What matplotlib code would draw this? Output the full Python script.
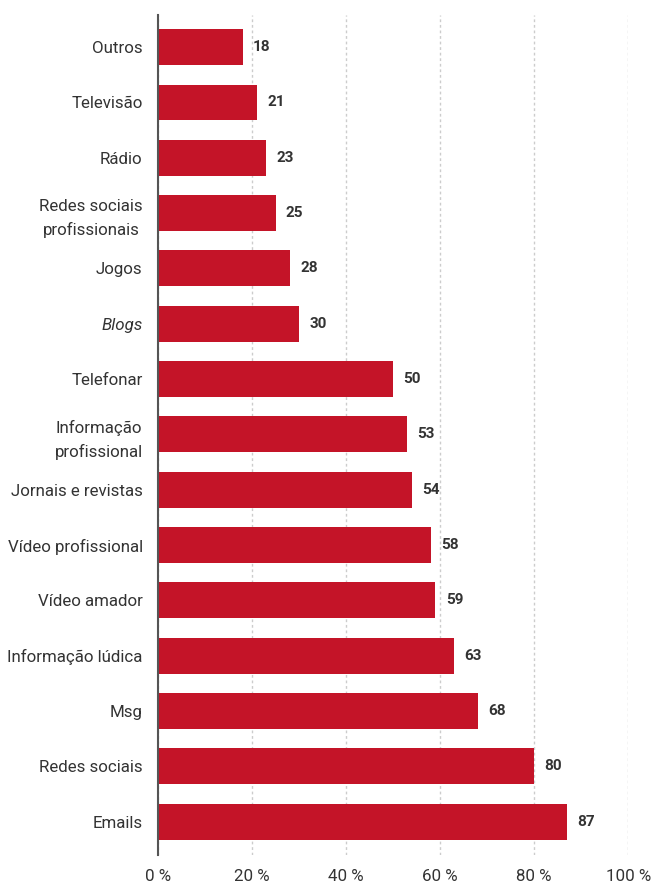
import matplotlib.pyplot as plt

categories = ["Outros", "Televisão", "Rádio", "Redes sociais\nprofissionais", "Jogos",
              "Blogs", "Telefonar", "Informação\nprofissional", "Jornais e revistas",
              "Vídeo profissional", "Vídeo amador", "Informação lúdica", "Msg",
              "Redes sociais", "Emails"]
values = [18, 21, 23, 25, 28, 30, 50, 53, 54, 58, 59, 63, 68, 80, 87]
xticks = [0, 20, 40, 60, 80, 100]
xtick_labels = ["0 %", "20 %", "40 %", "60 %", "80 %", "100 %"]

plt.rcParams['font.family'] = ['Roboto', 'DejaVu Sans']
text_color = "#333333"

fig = plt.figure(figsize=(6.53, 8.86), dpi=100)
ax = fig.add_axes([0.242, 0.035, 0.720, 0.948])

y = list(range(len(categories)))
ax.barh(y, values, height=0.65, color="#C41428", zorder=3)
for yi, v in zip(y, values):
    ax.text(v + 2.2, yi, str(v), va="center", ha="left", fontsize=11,
            fontweight="bold", color=text_color)

ax.set_xlim(0, 100)
ax.set_ylim(14.6, -0.58)
ax.set_yticks(y)
ax.set_yticklabels(categories, fontsize=12.2, color=text_color, linespacing=1.6)
for lbl in ax.get_yticklabels():
    lbl.set_multialignment("center")
    if lbl.get_text() == "Blogs":
        lbl.set_style("italic")
ax.set_xticks(xticks)
ax.set_xticklabels(xtick_labels, fontsize=12.2, color=text_color)
ax.tick_params(axis="both", length=0)
ax.tick_params(axis="y", pad=11)
ax.tick_params(axis="x", pad=10)

ax.grid(axis="x", linestyle=(0, (2, 2)), color="#cccccc", linewidth=1, zorder=0)
for s in ["top", "right", "bottom"]:
    ax.spines[s].set_visible(False)
ax.spines["left"].set_color("#555555")
ax.spines["left"].set_linewidth(1.5)
ax.spines["left"].set_zorder(4)

fig.savefig("out.png", dpi=100)
